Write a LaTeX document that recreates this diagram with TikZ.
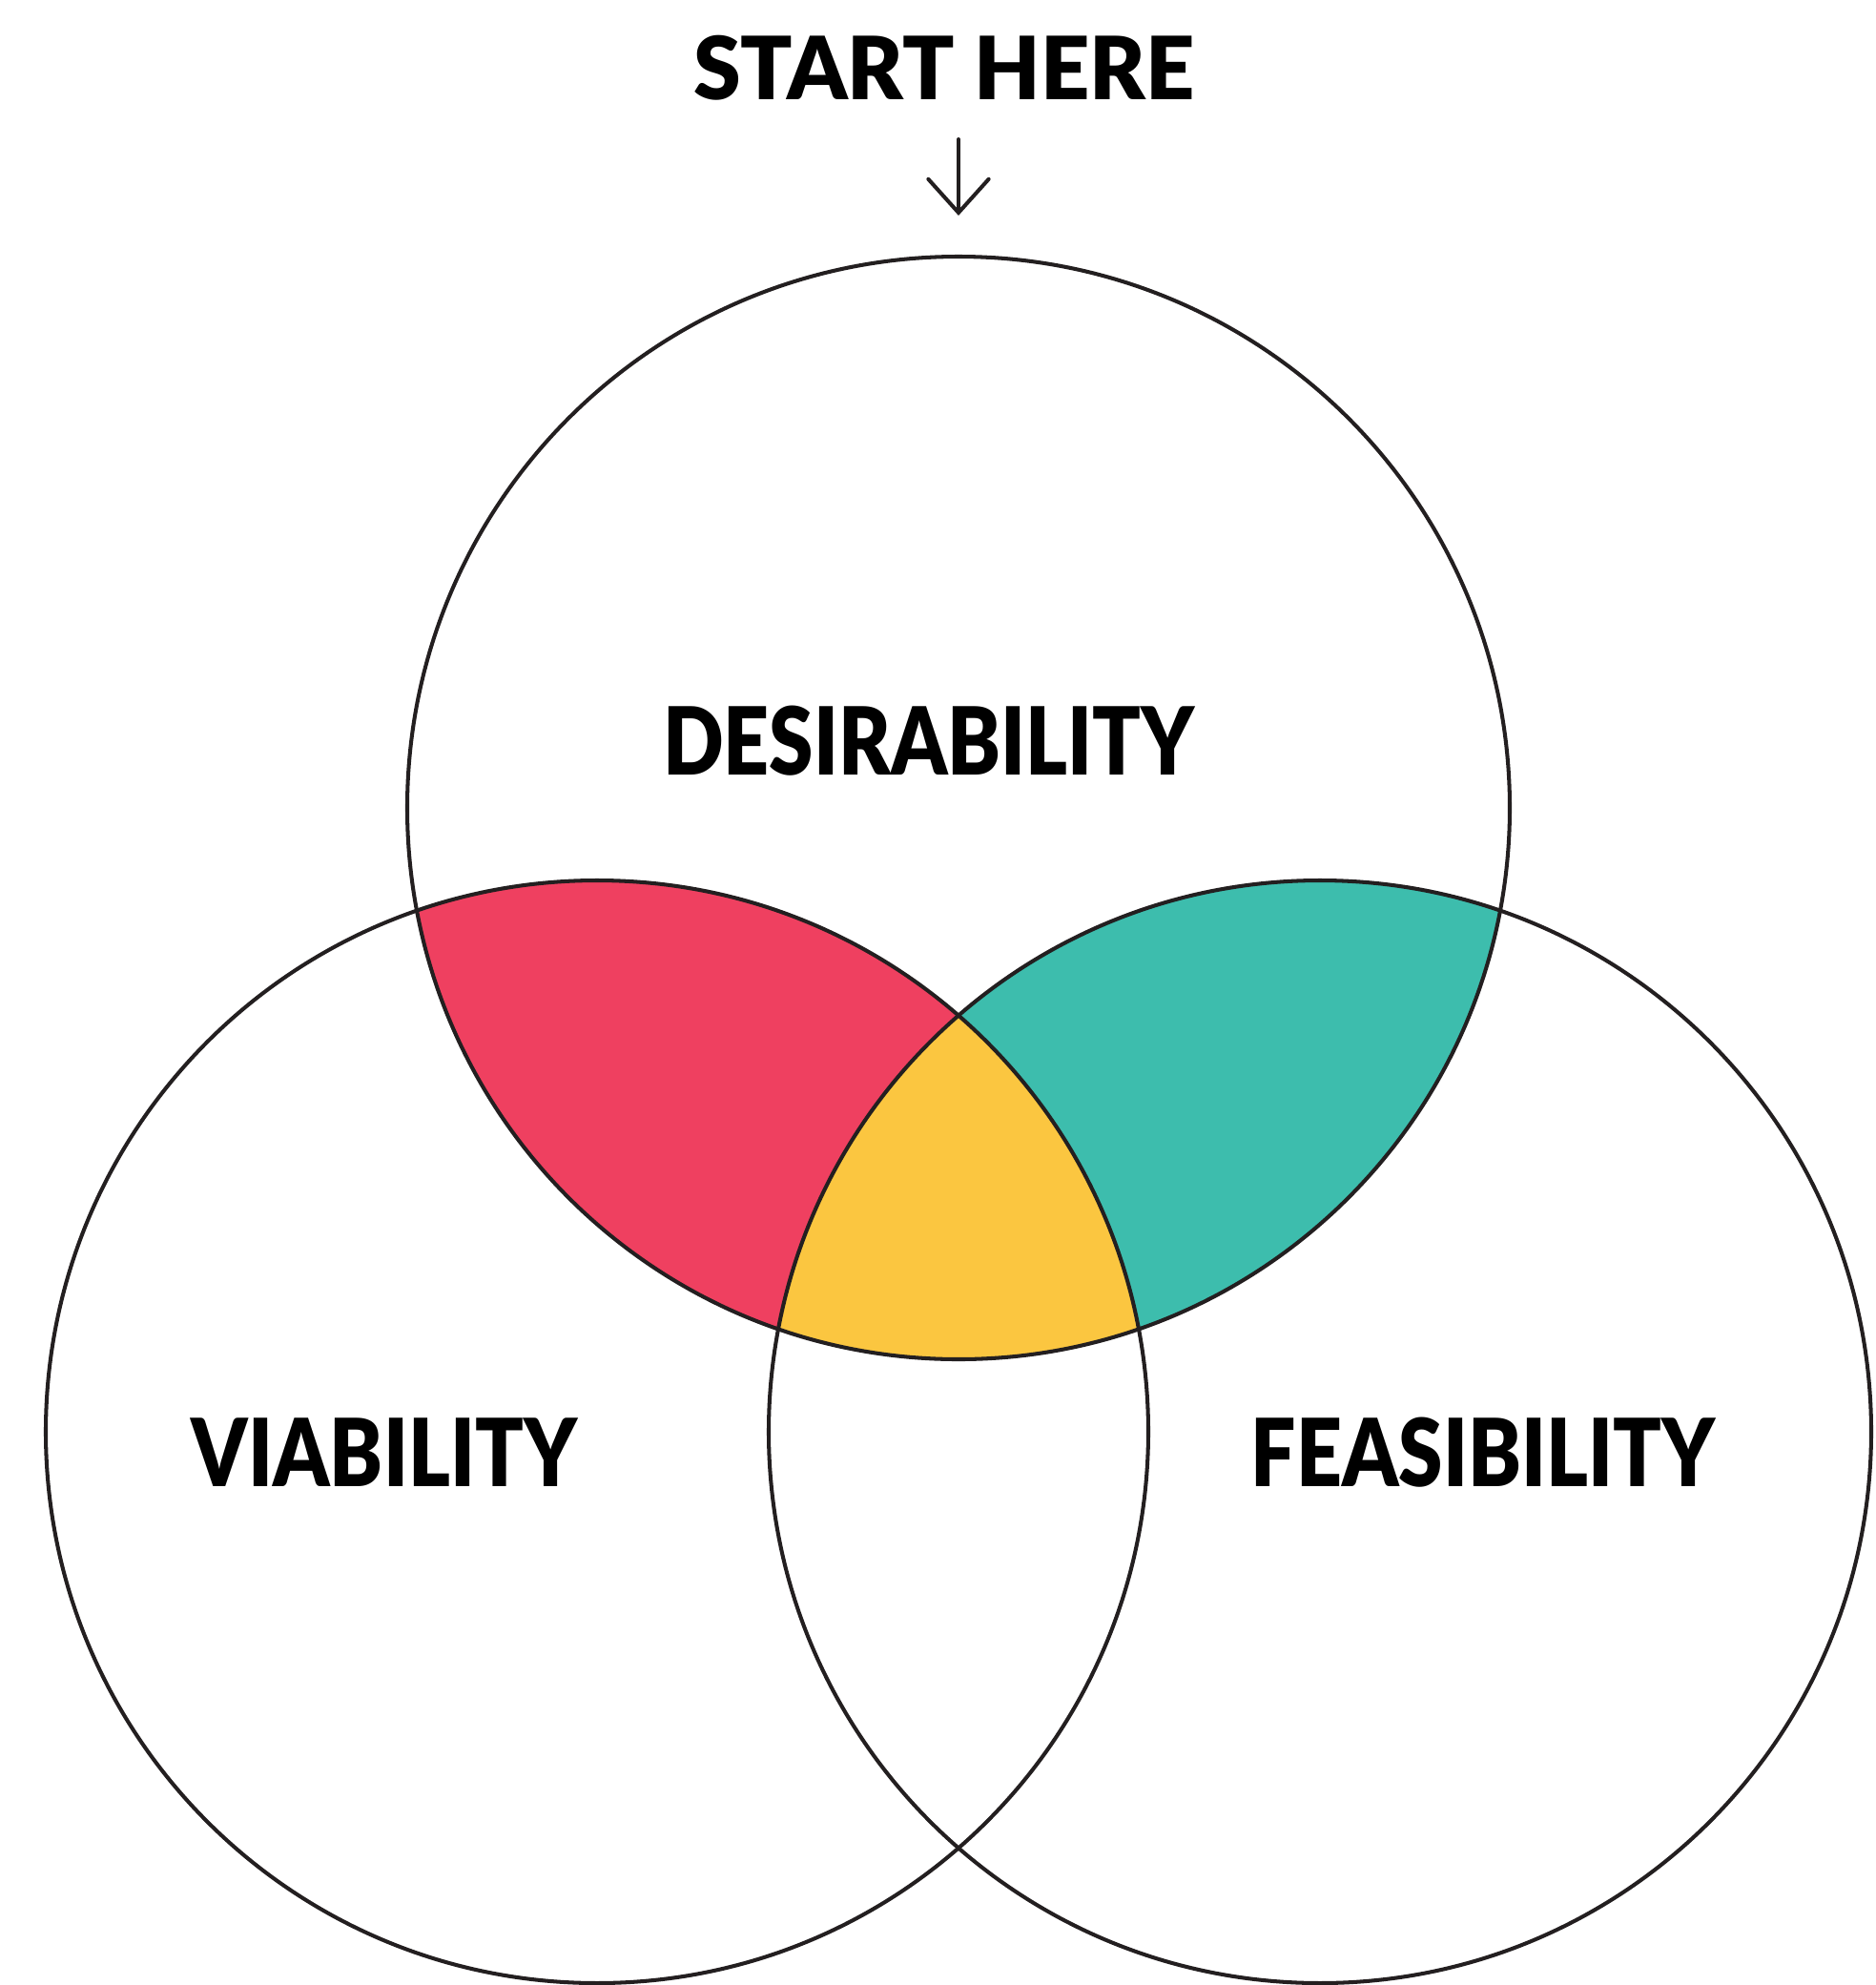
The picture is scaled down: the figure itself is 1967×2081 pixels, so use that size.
\documentclass[tikz,border=0pt]{standalone}
\usepackage{fontspec}
\setmainfont{Lato}[BoldFont={Lato Black}, BoldFeatures={FakeStretch=0.85}]
\newfontfamily\startfont{Lato Black}[FakeStretch=0.98]
\usetikzlibrary{arrows.meta}

\definecolor{vennred}{HTML}{EF4060}
\definecolor{vennteal}{HTML}{3DBDAD}
\definecolor{vennyellow}{HTML}{FBC640}
\definecolor{vennline}{HTML}{231F20}

\begin{document}
\begin{tikzpicture}[x=0.01cm, y=-0.01cm,
    ring/.style = {draw = vennline, line width = 1.15pt},
    label/.style = {anchor = base, font = \fontsize{28}{30}\selectfont\bfseries}]
\useasboundingbox (0,0) rectangle (1967,2081);
\coordinate (des) at (1005,847);
\coordinate (via) at (626,1501);
\coordinate (fea) at (1384,1501);
\def\rad{578}

% the coloured overlaps
\begin{scope}
    \clip (des) circle (\rad);
    \fill[vennred] (via) circle (\rad);
    \fill[vennteal] (fea) circle (\rad);
    \clip (via) circle (\rad);
    \fill[vennyellow] (fea) circle (\rad);
\end{scope}

\draw[ring] (des) circle (\rad);
\draw[ring] (via) circle (\rad);
\draw[ring] (fea) circle (\rad);

\node[label, font = \fontsize{26}{28}\startfont] (start) at (990,104) {START HERE};
\node[label] (desire) at (974,812) {DESIRABILITY};
\node[label] (viab) at (403,1558) {VIABILITY};
\node[label] (feas) at (1555,1558) {FEASIBILITY};

\coordinate (arrowtop) at (1005,146);
\coordinate (arrowend) at (1005,226);
\draw[vennline, line width = 1.15pt, line cap = round,
    -{Straight Barb[length=10pt, width=18pt, line cap=round]}] (arrowtop) -- (arrowend);
\end{tikzpicture}
\end{document}
